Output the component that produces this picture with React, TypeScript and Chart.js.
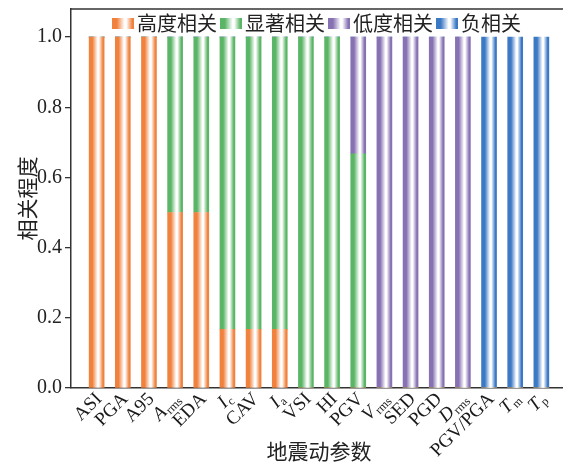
import React, { useEffect, useRef } from 'react';
import { Chart, registerables } from 'chart.js';
Chart.register(...registerables);

const tickMain = ['ASI', 'PGA', 'A95', 'A', 'EDA', 'I', 'CAV', 'I', 'VSI', 'HI', 'PGV', 'V', 'SED', 'PGD', 'D', 'PGV/PGA', 'T', 'T'];
const tickSub = ['', '', '', 'rms', '', 'c', '', 'a', '', '', '', 'rms', '', '', 'rms', '', 'm', 'p'];
const seriesNames = ['高度相关', '显著相关', '低度相关', '负相关'];
const seriesColors = ['#F0823E', '#5BB566', '#8671B2', '#3B79C5'];
const high = [1, 1, 1, 0.5, 0.5, 0.167, 0.167, 0.167, 0, 0, 0, 0, 0, 0, 0, 0, 0, 0];
const significant = [0, 0, 0, 0.5, 0.5, 0.833, 0.833, 0.833, 1, 1, 0.667, 0, 0, 0, 0, 0, 0, 0];
const low = [0, 0, 0, 0, 0, 0, 0, 0, 0, 0, 0.333, 1, 1, 1, 1, 0, 0, 0];
const negative = [0, 0, 0, 0, 0, 0, 0, 0, 0, 0, 0, 0, 0, 0, 0, 1, 1, 1];
const seriesValues = [high, significant, low, negative];
const yTitle = '相关程度';
const xTitle = '地震动参数';

const CJK = '"Noto Sans CJK SC", sans-serif';
const SERIF = '"Liberation Serif", "DejaVu Serif", serif';

function addStops(g: CanvasGradient, color: string) {
  g.addColorStop(0, color);
  g.addColorStop(0.22, color);
  g.addColorStop(0.57, '#ffffff');
  g.addColorStop(0.65, '#ffffff');
  g.addColorStop(0.92, color);
  g.addColorStop(1, color);
}

function barFill(color: string) {
  return (ctx: any) => {
    const chart = ctx.chart;
    const xs = chart.scales && chart.scales.x;
    if (ctx.type !== 'data' || !xs || !chart.chartArea || !ctx.raw) return color;
    const px = xs.getPixelForValue(ctx.raw.x);
    const g = chart.ctx.createLinearGradient(px - 7.5, 0, px + 7.5, 0);
    addStops(g, color);
    return g;
  };
}

const framePlugin = {
  id: 'frameTop',
  afterDatasetsDraw(chart: any) {
    const { ctx, chartArea } = chart;
    ctx.save();
    ctx.strokeStyle = '#333';
    ctx.lineWidth = 1.5;
    ctx.beginPath();
    ctx.moveTo(chartArea.left, chartArea.top);
    ctx.lineTo(chart.width, chartArea.top);
    ctx.stroke();
    ctx.restore();
  },
};

const xLabelPlugin = {
  id: 'xLabels',
  afterDraw(chart: any) {
    const { ctx, chartArea } = chart;
    const x = chart.scales.x;
    ctx.save();
    ctx.fillStyle = '#1a1a1a';
    tickMain.forEach((main, i) => {
      const sub = tickSub[i];
      const px = x.getPixelForValue(i);
      const mainFont = `${sub ? 'italic ' : ''}19px ${SERIF}`;
      const subFont = `12px ${SERIF}`;
      ctx.font = mainFont;
      const wm = ctx.measureText(main).width;
      ctx.font = subFont;
      const ws = sub ? ctx.measureText(sub).width + 1 : 0;
      const w = wm + ws;
      ctx.save();
      ctx.translate(px + 6, chartArea.bottom + 3 + 0.707 * 12.5);
      ctx.rotate(-Math.PI / 4);
      ctx.textAlign = 'left';
      ctx.textBaseline = 'alphabetic';
      ctx.font = mainFont;
      ctx.fillText(main, -w, 0);
      if (sub) {
        ctx.font = subFont;
        ctx.fillText(sub, -ws + 1, 3);
      }
      ctx.restore();
    });
    ctx.restore();
  },
};

const legendPlugin = {
  id: 'customLegend',
  afterDraw(chart: any) {
    const { ctx } = chart;
    ctx.save();
    ctx.font = `20px ${CJK}`;
    ctx.textBaseline = 'middle';
    ctx.textAlign = 'left';
    let x = 112;
    const y = 18;
    seriesNames.forEach((name, k) => {
      const g = ctx.createLinearGradient(x, 0, x + 22, 0);
      addStops(g, seriesColors[k]);
      ctx.fillStyle = g;
      ctx.fillRect(x, y, 22, 11);
      ctx.fillStyle = '#222';
      ctx.fillText(name, x + 25, y + 5.5);
      x += 25 + ctx.measureText(name).width + 3;
    });
    ctx.restore();
  },
};

export default function App() {
  const ref = useRef<HTMLCanvasElement | null>(null);
  useEffect(() => {
    if (!ref.current) return;
    const chart = new Chart(ref.current, {
      type: 'bar',
      data: {
        datasets: seriesValues.map((vals, k) => ({
          label: seriesNames[k],
          data: vals.map((v, i) => ({ x: i, y: v })),
          backgroundColor: barFill(seriesColors[k]),
          borderWidth: 0,
          barThickness: 15,
        })),
      },
      options: {
        responsive: false,
        animation: false,
        events: [],
        layout: { padding: { top: 9, right: 1, bottom: 0, left: 0 } },
        plugins: { legend: { display: false }, tooltip: { enabled: false } },
        scales: {
          x: {
            type: 'linear',
            min: -0.98,
            max: 17.98,
            stacked: true,
            offset: false,
            grid: { display: false, drawTicks: false },
            ticks: { display: false },
            border: { display: true, color: '#333', width: 1.5 },
            title: {
              display: true,
              text: xTitle,
              color: '#222',
              font: { family: CJK, size: 21 },
              padding: { top: 0, bottom: 2.4 },
            },
            afterFit: (s: any) => { s.height = 78; s.paddingLeft = 0; s.paddingRight = 0; },
          },
          y: {
            type: 'linear',
            min: 0,
            max: 1.08,
            stacked: true,
            ticks: {
              stepSize: 0.2,
              includeBounds: false,
              color: '#222',
              padding: 3,
              font: { family: SERIF, size: 20 },
              callback: (v: any) => Number(v).toFixed(1),
            },
            grid: { display: true, drawOnChartArea: false, drawTicks: true, tickLength: 6, color: '#333', lineWidth: 1.3 },
            border: { display: true, color: '#333', width: 1.5 },
            title: {
              display: true,
              text: yTitle,
              color: '#222',
              font: { family: CJK, size: 21 },
              padding: { top: 14, bottom: 0 },
            },
            afterFit: (s: any) => { s.width = 71; s.paddingTop = 0; s.paddingBottom = 0; },
          },
        },
      } as any,
      plugins: [framePlugin, xLabelPlugin, legendPlugin],
    });
    return () => chart.destroy();
  }, []);
  return (
    <div style={{ position: 'fixed', left: 0, top: 0, width: 563, height: 466, overflow: 'hidden', background: '#fff' }}>
      <canvas ref={ref} width={568} height={466} style={{ display: 'block', width: 568, height: 466 }} />
    </div>
  );
}
